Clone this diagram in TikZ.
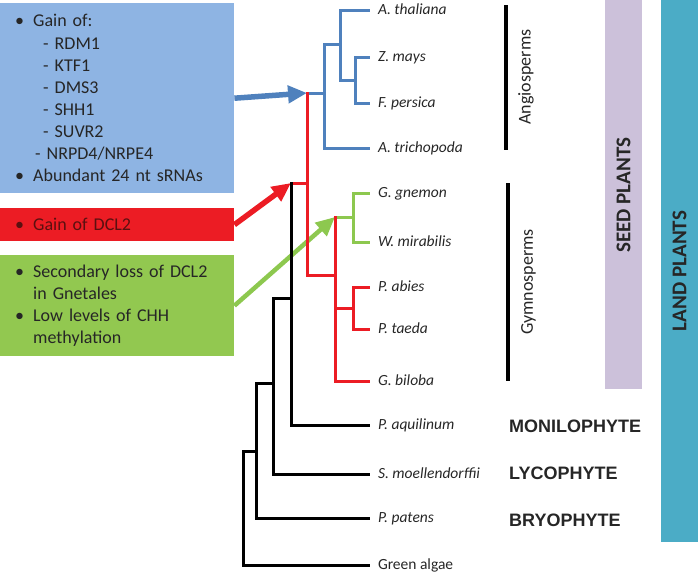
\documentclass[tikz,border=0pt]{standalone}
\usepackage{fontspec}
\setmainfont{Carlito}
\newfontfamily\gradefont{Liberation Sans}
\usetikzlibrary{positioning,arrows.meta}

\definecolor{boxblue}{HTML}{8EB4E3}
\definecolor{treeblue}{HTML}{4F81BD}
\definecolor{treered}{HTML}{EC1C24}
\definecolor{treegreen}{HTML}{8DC84F}
\definecolor{boxgreen}{HTML}{92C850}
\definecolor{seedlilac}{HTML}{CCC1DA}
\definecolor{landteal}{HTML}{4BACC6}
\definecolor{inktext}{HTML}{262626}
\definecolor{redink}{HTML}{5A1010}

\newcommand{\itembullet}{\makebox[18pt][l]{\textbullet}}

\begin{document}
\begin{tikzpicture}[x=1pt, y=-1pt,
	branch/.style={line width=3pt, line cap=rect},
	leaf/.style={anchor=west, inner xsep=0pt, outer xsep=10pt, text height=11pt, text depth=3pt, text=inktext, font=\fontsize{15.5}{18}\selectfont\itshape},
	infobox/.style={anchor=north west, inner xsep=15pt, inner ysep=0pt, align=left, text width=204pt, text=inktext, font=\fontsize{18}{22.1}\selectfont},
	clade/.style={rotate=90, anchor=north, inner sep=0pt, text=inktext, font=\fontsize{18}{20}\selectfont},
	group/.style={rotate=90, inner sep=0pt, text=inktext, font=\fontsize{21}{24}\selectfont\bfseries},
	grade/.style={anchor=west, inner sep=0pt, text=inktext, font=\gradefont\fontsize{18}{20}\selectfont\bfseries},
	bar/.style={line width=3.5pt},
	gainarrow/.style={line width=#1, -{Triangle[length=19pt,width=17pt]}}]
	\useasboundingbox (0,0) rectangle (698,574);

	\fill[seedlilac] (605,0) rectangle (642,389);
	\fill[landteal] (661,0) rectangle (698,542);
	\node[group] (seedlab) at (623.5,195) {SEED PLANTS};
	\node[group] (landlab) at (679.5,271) {LAND PLANTS};

	\node[infobox, fill=boxblue, minimum height=190pt] (gainbox) at (0,3) {%
		\itembullet Gain of:\\
		\hspace*{28pt}- RDM1\\
		\hspace*{28pt}- KTF1\\
		\hspace*{28pt}- DMS3\\
		\hspace*{28pt}- SHH1\\
		\hspace*{28pt}- SUVR2\\
		\hspace*{20pt}- NRPD4/NRPE4\\
		\itembullet Abundant 24 nt sRNAs};
	\node[infobox, fill=treered, minimum height=33pt, text=redink] (dclbox) at (0,208) {\itembullet Gain of DCL2};
	\node[infobox, fill=boxgreen, minimum height=101pt] (lossbox) at (0,255) {%
		\itembullet Secondary loss of DCL2\\
		\hspace*{18pt}in Gnetales\\
		\itembullet Low levels of CHH\\
		\hspace*{18pt}methylation};

	\coordinate (zf) at (355,80);
	\coordinate (azf) at (340,44);
	\coordinate (ang) at (324,93);
	\coordinate (seed) at (307,183);
	\coordinate (gym) at (335,275);
	\coordinate (gne) at (353,217);
	\coordinate (pin) at (353,308);
	\coordinate (eup) at (291,298);
	\coordinate (vas) at (273,383);
	\coordinate (emb) at (256,451);
	\coordinate (root) at (243,500);
	\coordinate (angbase) at (ang -| seed);
	\coordinate (seedbase) at (seed -| eup);
	\coordinate (gnebase) at (gne -| gym);

	\foreach \n/\y/\lbl in {ath/10/A. thaliana, zma/57/Z. mays, fpe/103/F. persica, atr/148/A. trichopoda,
		ggn/193/G. gnemon, wmi/242/W. mirabilis, pab/287/P. abies, pta/329/P. taeda, gbi/381/G. biloba,
		paq/425/P. aquilinum, smo/474/S. moellendorffii, ppa/518/P. patens}
		\node[leaf] (\n) at (368,\y) {\lbl};
	\node[leaf, font=\fontsize{15.5}{18}\selectfont] (alg) at (368,565) {Green algae};

	\draw[gainarrow=5.5pt, treeblue] (gainbox.east) -- (angbase);
	\draw[gainarrow=5.5pt, treered] (dclbox.east) -- (seedbase);
	\draw[gainarrow=4.5pt, treegreen] (lossbox.east) -- (gnebase);

	\draw[branch, treeblue] (zma.west) -| (zf) |- (fpe.west);
	\draw[branch, treeblue] (ath.west) -| (azf) |- (zf);
	\draw[branch, treeblue] (azf) -| (ang) |- (atr.west);
	\draw[branch, treegreen] (ggn.west) -| (gne) |- (wmi.west);
	\draw[branch, treered] (pab.west) -| (pin) |- (pta.west);
	\draw[branch, treegreen] (gne) -- (gnebase);
	\draw[branch, treered] (gnebase) |- (gbi.west);
	\draw[branch, treered] (pin) -- (pin -| gym);
	\draw[branch, treeblue] (ang) -- (angbase);
	\draw[branch, treered] (angbase) |- (gym);
	\draw[branch, treered] (seed) -- (seedbase);
	\draw[branch] (seedbase) |- (paq.west);
	\draw[branch] (eup) -| (vas) |- (smo.west);
	\draw[branch] (vas) -| (emb) |- (ppa.west);
	\draw[branch] (emb) -| (root) |- (alg.west);

	\draw[bar] (506,5) -- (506,150);
	\draw[bar] (508,183) -- (508,381);
	\node[clade] (angio) at (518,77) {Angiosperms};
	\node[clade] (gymno) at (521,282) {Gymnosperms};

	\node[grade] (moni) at (509,426) {MONILOPHYTE};
	\node[grade] (lyco) at (509,473) {LYCOPHYTE};
	\node[grade] (bryo) at (509,520) {BRYOPHYTE};
\end{tikzpicture}
\end{document}
